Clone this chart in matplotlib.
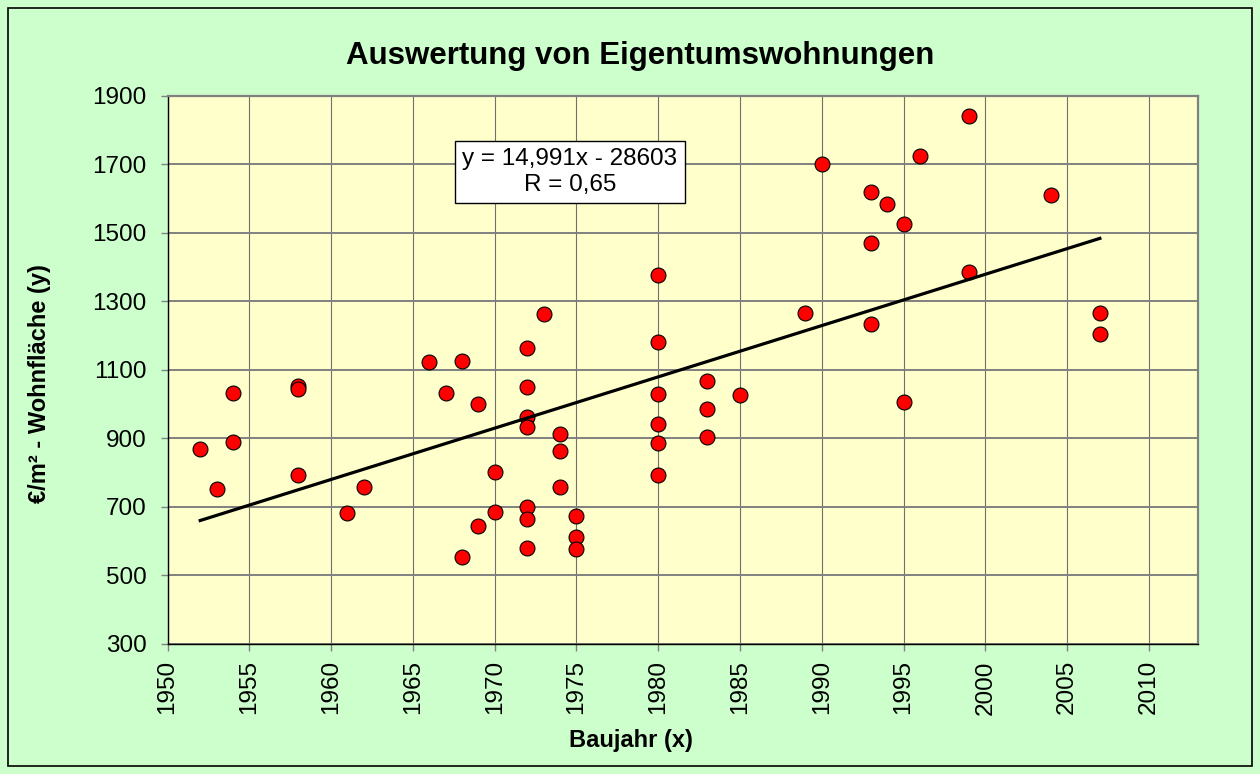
import matplotlib
matplotlib.use('Agg')
import matplotlib.pyplot as plt
from matplotlib.patches import Rectangle

plt.rcParams['font.family'] = ['Liberation Sans', 'DejaVu Sans']

# Baujahr (x) und Preis je m² Wohnfläche (y)
baujahr = [1952, 1953, 1954, 1954, 1958, 1958, 1958, 1961, 1962, 1966,
           1967, 1968, 1968, 1969, 1969, 1970, 1970, 1972, 1972, 1972,
           1972, 1972, 1972, 1972, 1973, 1974, 1974, 1974, 1975, 1975,
           1975, 1980, 1980, 1980, 1980, 1980, 1980, 1983, 1983, 1983,
           1985, 1989, 1990, 1993, 1993, 1993, 1994, 1995, 1995, 1996,
           1999, 1999, 2004, 2007, 2007]
preis = [867, 751, 888, 1033, 1052, 1043, 793, 682, 758, 1123,
         1033, 1125, 553, 1001, 643, 801, 684, 1163, 1049, 961,
         932, 700, 664, 579, 1263, 911, 862, 756, 673, 610,
         575, 1377, 1180, 1029, 940, 887, 791, 1067, 986, 903,
         1025, 1267, 1702, 1618, 1469, 1233, 1583, 1527, 1007, 1725,
         1842, 1386, 1611, 1265, 1204]

# lineare Trendlinie laut Diagrammbeschriftung
slope = 14.991
intercept = -28603
r_wert = '0,65'

x_ticks = list(range(1950, 2011, 5))
y_ticks = list(range(300, 1901, 200))

fig = plt.figure(figsize=(12.6, 7.74), dpi=100, facecolor='#CCFFCC')
ax = fig.add_axes([167.5 / 1260, 1 - 643.5 / 774, (1198 - 167.5) / 1260, (643.5 - 96) / 774])
ax.set_facecolor('#FFFFCC')

ax.scatter(baujahr, preis, s=115, c='#FF0000', edgecolors='black', linewidths=0.8, zorder=3)

x0, x1 = min(baujahr), max(baujahr)
ax.plot([x0, x1], [slope * x0 + intercept, slope * x1 + intercept],
        color='black', linewidth=2.3, zorder=4)

ax.set_xlim(1950, 2013)
ax.set_ylim(300, 1900)
ax.set_xticks(x_ticks)
ax.set_yticks(y_ticks)
ax.set_xticklabels([str(t) for t in x_ticks], rotation=90, fontsize=17.5)
ax.set_yticklabels([str(t) for t in y_ticks], fontsize=17.5)
ax.tick_params(axis='x', length=5, width=1, color='#808080', pad=7)
ax.tick_params(axis='y', length=5, width=1, color='#808080', pad=10)

ax.grid(True, axis='y', color='#808080', linewidth=1.4, zorder=0)
ax.grid(True, axis='x', color='#707070', linewidth=0.8, zorder=0)
ax.set_axisbelow(True)

for side in ['top', 'right']:
    ax.spines[side].set_color('#808080')
    ax.spines[side].set_linewidth(1.6)
for side in ['left', 'bottom']:
    ax.spines[side].set_color('black')
    ax.spines[side].set_linewidth(1.0)

ax.text(1974.6, 1678, f'y = 14,991x - 28603\nR = {r_wert}', fontsize=17.5,
        ha='center', va='center', linespacing=1.2, zorder=5,
        bbox=dict(boxstyle='square,pad=0.3', facecolor='white', edgecolor='black', linewidth=1.0))

fig.text(640 / 1260, 1 - 56 / 774, 'Auswertung von Eigentumswohnungen',
         fontsize=22.5, fontweight='bold', ha='center', va='center')
fig.text(631 / 1260, 1 - 740 / 774, 'Baujahr (x)',
         fontsize=17, fontweight='bold', ha='center', va='center')
fig.text(40 / 1260, 1 - 384 / 774, '€/m² - Wohnfläche (y)',
         fontsize=17, fontweight='bold', ha='center', va='center', rotation=90)

fig.patches.append(Rectangle((8 / 1260, 8 / 774), 1244 / 1260, 758 / 774,
                             transform=fig.transFigure, fill=False,
                             edgecolor='black', linewidth=1.2))

fig.savefig('out.png', dpi=100, facecolor=fig.get_facecolor())
